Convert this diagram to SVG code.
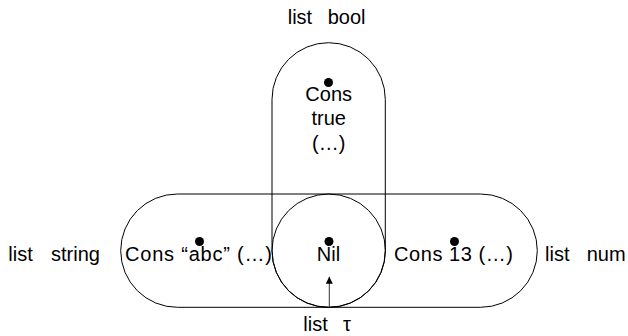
<svg xmlns="http://www.w3.org/2000/svg" width="628" height="336" viewBox="0 0 628 336">
  <defs>
    <style>
      .outline { fill: none; stroke: #000; stroke-width: 1; }
      .pt { fill: #000; }
      .lbl { font-family: "Liberation Sans", Arial, sans-serif; font-size: 20px; fill: #000; }
      .mid { text-anchor: middle; }
      .edge { stroke: #333; stroke-width: 1; fill: none; }
    </style>
    <marker id="head" viewBox="0 0 7 7" refX="7" refY="3.5" markerWidth="7" markerHeight="7" markerUnits="userSpaceOnUse" orient="auto">
      <path d="M0,0 L7,3.5 L0,7 Z" fill="#000"/>
    </marker>
  </defs>

  <!-- list bool: vertical stadium -->
  <g id="list-bool">
    <rect class="outline" x="272" y="42.7" width="113.3" height="264.6" rx="56.7" ry="56.7"/>
    <text class="lbl" x="287.7" y="24">list</text>
    <text class="lbl" x="327.7" y="24">bool</text>
    <circle class="pt" cx="328.5" cy="82.5" r="4.5"/>
    <text class="lbl mid" x="328.7" y="100.5">Cons</text>
    <text class="lbl mid" x="328.7" y="125">true</text>
    <text class="lbl mid" x="328.7" y="149.5">(…)</text>
  </g>

  <!-- list string / list num: horizontal stadium -->
  <g id="list-string-num">
    <rect class="outline" x="120.7" y="194" width="416.6" height="113.3" rx="56.7" ry="56.7"/>
    <text class="lbl" x="8.3" y="261">list</text>
    <text class="lbl" x="51" y="261">string</text>
    <text class="lbl" x="545" y="261">list</text>
    <text class="lbl" x="586.7" y="261">num</text>
  </g>

  <g id="cons-abc">
    <circle class="pt" cx="199.5" cy="241.5" r="4.5"/>
    <text class="lbl" x="125" y="261" textLength="147" lengthAdjust="spacing">Cons “abc” (…)</text>
  </g>

  <g id="cons-13">
    <circle class="pt" cx="454.5" cy="241.5" r="4.5"/>
    <text class="lbl" x="394" y="261" textLength="119" lengthAdjust="spacing">Cons 13 (…)</text>
  </g>

  <!-- list τ: shared circle -->
  <g id="nil">
    <circle class="outline" cx="328.7" cy="250.7" r="56.7"/>
    <circle class="pt" cx="329" cy="241.5" r="4.5"/>
    <text class="lbl mid" x="328.5" y="261">Nil</text>
    <text class="lbl" x="303.3" y="331">list</text>
    <text class="lbl" x="343" y="331" font-family="'DejaVu Serif', serif">τ</text>
  </g>

  <g id="connectors">
    <line class="edge" x1="329.3" y1="307.3" x2="329.3" y2="276.7" marker-end="url(#head)"/>
  </g>
</svg>
